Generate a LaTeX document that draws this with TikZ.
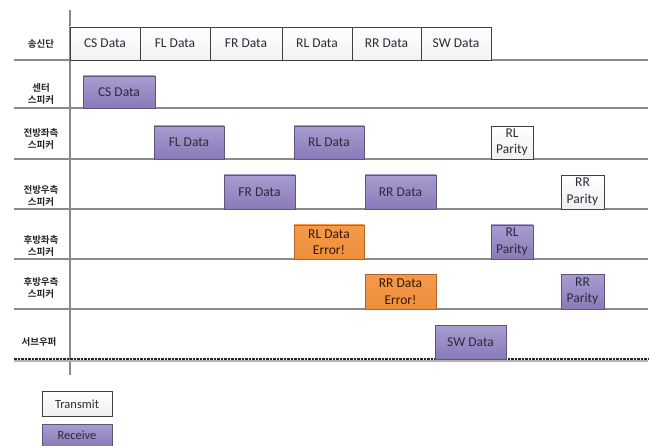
\documentclass[tikz,border=0pt]{standalone}
\usepackage{fontspec}
\setmainfont{Carlito}
\newfontfamily\kr{Noto Sans CJK KR}[BoldFont={* Bold}]
\definecolor{purp}{HTML}{9284C0}
\definecolor{purpT}{HTML}{A89CD0}
\definecolor{purpB}{HTML}{8A7AB8}
\definecolor{purpD}{HTML}{5E5480}
\definecolor{orng}{HTML}{F08E3A}
\definecolor{orngT}{HTML}{F49A4A}
\definecolor{orngD}{HTML}{B0642C}
\definecolor{linegray}{HTML}{8A8A8A}
\definecolor{txt}{HTML}{2B2B3A}
\tikzset{
  base/.style={draw, line width=0.9pt, inner sep=0pt, align=center, font=\fontsize{13.5}{16.5}\selectfont, text=txt},
  recv/.style={base, draw=purpD, top color=purpT, bottom color=purpB},
  errbox/.style={base, draw=orngD, top color=orngT, bottom color=orng, text=black!80!orange},
  xmit/.style={base, draw=black!75, top color=white, bottom color=black!6},
  hdr/.style={draw=black!75, line width=0.9pt, top color=white, bottom color=black!5, inner sep=0pt, minimum height=33, font=\fontsize{13.5}{15}\selectfont, text=txt},
  rowlabel/.style={font=\kr\bfseries\fontsize{9.5}{12.5}\selectfont, align=center, inner sep=0pt, text=black!85},
  rowline/.style={draw=linegray, line width=1.6pt},
  legend/.style={base, font=\fontsize{12.5}{14}\selectfont, minimum width=70, minimum height=25}
}
\begin{document}
\begin{tikzpicture}[x=1pt,y=-1pt]
\useasboundingbox (0,0) rectangle (658,446);
\fill[white] (0,0) rectangle (658,446);
% axis
\coordinate (axtop) at (70,10);
\coordinate (axbot) at (70,375);
\draw[draw=linegray, line width=1.6pt] (axtop) -- (axbot);
% row lines
\foreach \y/\n in {60/a,108/b,159/c,209/d,259/e,309/f}{
  \coordinate (L\n) at (14,\y);
  \coordinate (R\n) at (648,\y);
  \draw[rowline] (L\n) -- (R\n);
}
\coordinate (Lg) at (14,359);
\coordinate (Rg) at (648,359);
\draw[draw=black!30, line width=2pt] ([yshift=-1.5pt]Lg) -- ([yshift=-1.5pt]Rg);
\draw[black!85, line width=1.4pt, dash pattern=on 2.5pt off 1pt] (Lg) -- (Rg);
% header
\node[hdr, minimum width=70] (hcs) at (105,43.5) {CS Data};
\node[hdr, minimum width=70] (hfl) at (175,43.5) {FL Data};
\node[hdr, minimum width=72] (hfr) at (246,43.5) {FR Data};
\node[hdr, minimum width=70] (hrl) at (317,43.5) {RL Data};
\node[hdr, minimum width=69] (hrr) at (386.5,43.5) {RR Data};
\node[hdr, minimum width=70] (hsw) at (456,43.5) {SW Data};
% labels
\node[rowlabel] (l0) at (41,44) {송신단};
\node[rowlabel] (l1) at (41,94) {센터\\스피커};
\node[rowlabel] (l2) at (41,139) {전방좌측\\스피커};
\node[rowlabel] (l3) at (41,196) {전방우측\\스피커};
\node[rowlabel] (l4) at (41,246) {후방좌측\\스피커};
\node[rowlabel] (l5) at (41,288) {후방우측\\스피커};
\node[rowlabel] (l6) at (39,342) {서브우퍼};
% boxes
\node[recv, minimum width=72, minimum height=32] (cs) at (119,92) {CS Data};
\node[recv, minimum width=70, minimum height=33] (fl) at (189,142.5) {FL Data};
\node[recv, minimum width=70, minimum height=33] (rl1) at (329,142.5) {RL Data};
\node[xmit, minimum width=42, minimum height=33] (rlp1) at (512,142.5) {RL\\Parity};
\node[recv, minimum width=71, minimum height=34] (fr) at (259.5,192) {FR Data};
\node[recv, minimum width=71, minimum height=34] (rr1) at (400.5,192) {RR Data};
\node[xmit, minimum width=43, minimum height=34] (rrp1) at (582.5,192) {RR\\Parity};
\node[errbox, minimum width=70, minimum height=34] (rle) at (329,242) {RL Data\\Error!};
\node[recv, minimum width=42, minimum height=34] (rlp2) at (512,242) {RL\\Parity};
\node[errbox, minimum width=71, minimum height=35] (rre) at (400.5,291.5) {RR Data\\Error!};
\node[recv, minimum width=43, minimum height=35] (rrp2) at (582.5,291.5) {RR\\Parity};
\node[recv, minimum width=71, minimum height=34] (sw) at (470.5,342) {SW Data};
% legend
\node[xmit, legend] (lt) at (77,404) {Transmit};
\node[recv, legend, minimum height=22] (lr) at (77,435) {Receive};
\end{tikzpicture}
\end{document}
